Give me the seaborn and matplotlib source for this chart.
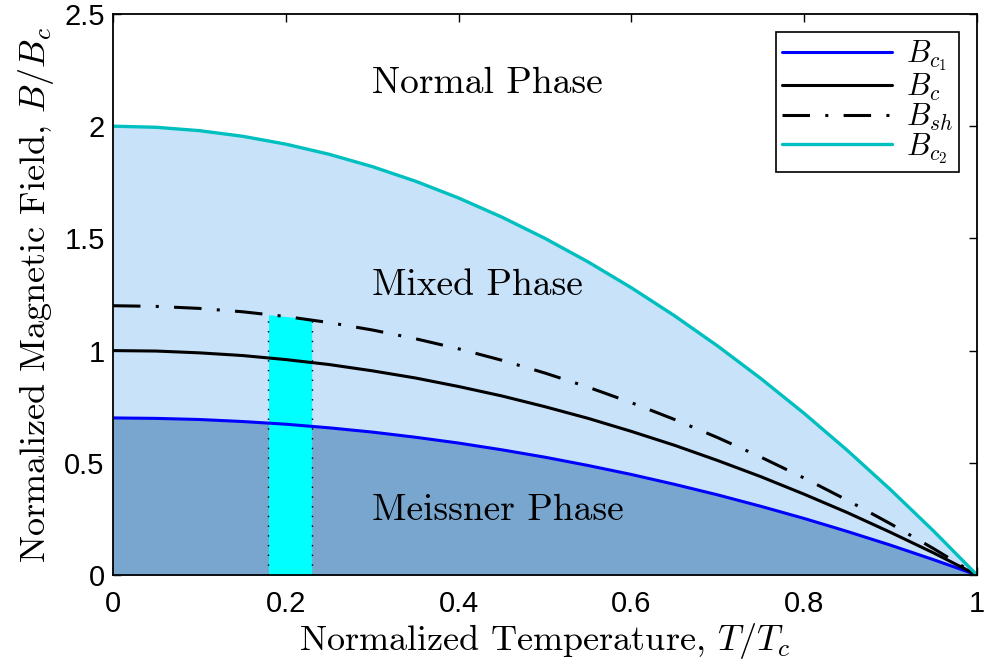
import numpy as np
import pandas as pd
import matplotlib
matplotlib.use("Agg")
import matplotlib.pyplot as plt
import seaborn as sns

# Normalized temperature samples and the critical-field curves
t = [0.00, 0.05, 0.10, 0.15, 0.20, 0.25, 0.30, 0.35, 0.40, 0.45, 0.50,
     0.55, 0.60, 0.65, 0.70, 0.75, 0.80, 0.85, 0.90, 0.95, 1.00]
bc1 = [0.700, 0.698, 0.693, 0.684, 0.672, 0.656, 0.637, 0.614, 0.588, 0.558, 0.525,
       0.488, 0.448, 0.404, 0.357, 0.306, 0.252, 0.194, 0.133, 0.068, 0.000]
bc = [1.000, 0.998, 0.990, 0.978, 0.960, 0.938, 0.910, 0.878, 0.840, 0.798, 0.750,
      0.698, 0.640, 0.578, 0.510, 0.438, 0.360, 0.278, 0.190, 0.098, 0.000]
bsh = [1.200, 1.197, 1.188, 1.173, 1.152, 1.125, 1.092, 1.053, 1.008, 0.957, 0.900,
       0.837, 0.768, 0.693, 0.612, 0.525, 0.432, 0.333, 0.228, 0.117, 0.000]
bc2 = [2.000, 1.995, 1.980, 1.955, 1.920, 1.875, 1.820, 1.755, 1.680, 1.595, 1.500,
       1.395, 1.280, 1.155, 1.020, 0.875, 0.720, 0.555, 0.380, 0.195, 0.000]

# Operating band (temperature range) and its upper edge
band_t = [0.18, 0.23]
band_top = [1.16, 1.14]

phase_labels = ["Normal Phase", "Mixed Phase", "Meissner Phase"]
phase_y = [2.19, 1.29, 0.29]

df = pd.DataFrame({"t": t, "bc1": bc1, "bc": bc, "bsh": bsh, "bc2": bc2})

sns.set_style("ticks")
plt.rcParams["mathtext.fontset"] = "cm"
plt.rcParams["font.family"] = ["Liberation Sans", "DejaVu Sans"]
plt.rcParams["text.color"] = "black"

fig = plt.figure(figsize=(9.84, 6.65), dpi=100)
ax = fig.add_axes([0.1148, 0.1353, 0.8781, 0.8437])

# Phase regions
ax.fill_between(df["t"], 0, df["bc2"], color="#c8e2fa", lw=0, zorder=1)
ax.fill_between(df["t"], 0, df["bc1"], color="#78a6cf", lw=0, zorder=1.1)
ax.fill_between(band_t, 0, band_top, color="#00ffff", lw=0, zorder=1.2)
for x0, y0 in zip(band_t, band_top):
    ax.plot([x0, x0], [0, y0], color="black", lw=1.0,
            linestyle=(0, (1, 6)), zorder=1.3)

# Critical-field curves
sns.lineplot(data=df, x="t", y="bc1", ax=ax, color="#0000ff", lw=2.2,
             label=r"$B_{c_1}$", zorder=3)
sns.lineplot(data=df, x="t", y="bc", ax=ax, color="black", lw=2.2,
             label=r"$B_c$", zorder=3)
sns.lineplot(data=df, x="t", y="bsh", ax=ax, color="black", lw=2.2,
             linestyle=(0, (9, 5, 1, 5)), label=r"$B_{sh}$", zorder=3)
sns.lineplot(data=df, x="t", y="bc2", ax=ax, color="#00bfbf", lw=2.4,
             label=r"$B_{c_2}$", zorder=3)

for txt, yy in zip(phase_labels, phase_y):
    ax.text(0.30, yy, txt, fontsize=27, family="cmr10", color="black",
            ha="left", va="center", zorder=4)

ax.set_xlim(0, 1)
ax.set_ylim(0, 2.5)
ax.set_xticks([0, 0.2, 0.4, 0.6, 0.8, 1])
ax.set_xticklabels(["0", "0.2", "0.4", "0.6", "0.8", "1"])
ax.set_yticks([0, 0.5, 1, 1.5, 2, 2.5])
ax.set_yticklabels(["0", "0.5", "1", "1.5", "2", "2.5"])
ax.tick_params(direction="in", top=True, right=True, length=6, width=1,
               labelsize=21, color="black", labelcolor="black")
ax.tick_params(axis="x", pad=11)
ax.tick_params(axis="y", pad=6)
for s in ax.spines.values():
    s.set_linewidth(1.3)
    s.set_color("black")
    s.set_zorder(5)

ax.set_xlabel(r"Normalized Temperature, $T/T_c$", fontsize=26, family="cmr10",
              labelpad=2, color="black")
ax.set_ylabel(r"Normalized Magnetic Field, $B/B_c$", fontsize=26, family="cmr10",
              labelpad=6, color="black")

leg = ax.legend(loc="upper right", fontsize=22, frameon=True, fancybox=False,
                edgecolor="black", framealpha=1, handlelength=3.6,
                borderaxespad=0.6, labelspacing=-0.05, borderpad=0.2,
                handletextpad=0.45)
leg.get_frame().set_linewidth(1.2)

fig.savefig("out.png", dpi=100)
